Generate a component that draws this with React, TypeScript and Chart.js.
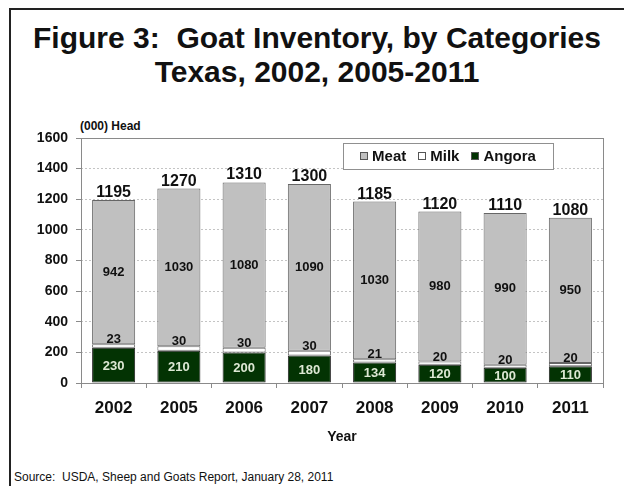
import { useEffect, useRef } from 'react';
import { Chart, registerables } from 'chart.js';

Chart.register(...registerables);

const FONT = '"Liberation Sans", Arial, Helvetica, sans-serif';

// values, (000) head
const years = ['2002', '2005', '2006', '2007', '2008', '2009', '2010', '2011'];
const meat = [942, 1030, 1080, 1090, 1030, 980, 990, 950];
const milk = [23, 30, 30, 30, 21, 20, 20, 20];
const angora = [230, 210, 200, 180, 134, 120, 100, 110];
const totals = [1195, 1270, 1310, 1300, 1185, 1120, 1110, 1080];
const seriesNames = ['Meat', 'Milk', 'Angora'];
const yMax = 1600;
const yStep = 200;

const MEAT_COLOR = '#c0c0c0';
const MILK_COLOR = '#ffffff';
const ANGORA_COLOR = '#033303';

const labelPlugin = {
   id: 'goatLabels',
   afterDatasetsDraw(chart: any) {
      const { ctx, chartArea } = chart;
      const angoraMeta = chart.getDatasetMeta(0);
      const milkMeta = chart.getDatasetMeta(1);
      const meatMeta = chart.getDatasetMeta(2);

      ctx.save();
      ctx.textAlign = 'center';
      years.forEach((_, i) => {
         const a = angoraMeta.data[i];
         const m = milkMeta.data[i];
         const t = meatMeta.data[i];

         ctx.font = `bold 13px ${FONT}`;
         ctx.fillStyle = '#dde8d4';
         ctx.textBaseline = 'middle';
         ctx.fillText(String(angora[i]), a.x, (a.y + a.base) / 2 + 1);

         ctx.fillStyle = '#111';
         ctx.textBaseline = 'alphabetic';
         ctx.fillText(String(milk[i]), m.x, m.y - 1);

         ctx.textBaseline = 'middle';
         ctx.fillText(String(meat[i]), t.x, (t.y + t.base) / 2);

         ctx.font = `bold 16px ${FONT}`;
         ctx.textBaseline = 'alphabetic';
         ctx.fillText(String(totals[i]), t.x, t.y - 3);
      });

      // plot frame
      ctx.strokeStyle = '#8a8a8a';
      ctx.lineWidth = 1;
      ctx.strokeRect(
         Math.round(chartArea.left) + 0.5,
         Math.round(chartArea.top) + 0.5,
         Math.round(chartArea.width),
         Math.round(chartArea.height)
      );

      // legend box inside the plot
      const boxLeft = chartArea.left + 262;
      const boxTop = chartArea.top + 5;
      const boxW = 210;
      const boxH = 26;
      ctx.fillStyle = '#fff';
      ctx.fillRect(boxLeft, boxTop, boxW, boxH);
      ctx.strokeStyle = '#909090';
      ctx.strokeRect(Math.round(boxLeft) + 0.5, Math.round(boxTop) + 0.5, boxW, boxH);

      const colors = [MEAT_COLOR, MILK_COLOR, ANGORA_COLOR];
      ctx.font = `bold 15px ${FONT}`;
      const sq = 8;
      const gap = 4;
      const itemGap = 12;
      const widths = seriesNames.map(n => ctx.measureText(n).width);
      const total = widths.reduce((s, w) => s + sq + gap + w, 0) + itemGap * (seriesNames.length - 1);
      let x = boxLeft + (boxW - total) / 2;
      const midY = boxTop + boxH / 2;
      seriesNames.forEach((name, i) => {
         ctx.fillStyle = colors[i];
         ctx.fillRect(Math.round(x), Math.round(midY - sq / 2), sq, sq);
         ctx.strokeStyle = '#555';
         ctx.strokeRect(Math.round(x) + 0.5, Math.round(midY - sq / 2) + 0.5, sq - 1, sq - 1);
         x += sq + gap;
         ctx.fillStyle = '#111';
         ctx.textAlign = 'left';
         ctx.textBaseline = 'middle';
         ctx.fillText(name, x, midY + 1);
         x += widths[i] + itemGap;
      });
      ctx.restore();
   }
};

export default function App() {
   const chartRef = useRef<HTMLCanvasElement>(null);
   const chartInstance = useRef<Chart | null>(null);

   useEffect(() => {
      if (!chartRef.current) return;
      const ctx = chartRef.current.getContext('2d');
      if (!ctx) return;

      if (chartInstance.current) {
         chartInstance.current.destroy();
      }

      const barStyle = {
         borderWidth: 1,
         borderSkipped: false as const,
         barPercentage: 0.66,
         categoryPercentage: 1
      };

      chartInstance.current = new Chart(ctx, {
         type: 'bar',
         data: {
            labels: years,
            datasets: [
               { label: 'Angora', data: angora, backgroundColor: ANGORA_COLOR, borderColor: '#222', ...barStyle },
               { label: 'Milk', data: milk, backgroundColor: MILK_COLOR, borderColor: '#666', ...barStyle },
               { label: 'Meat', data: meat, backgroundColor: MEAT_COLOR, borderColor: '#666', ...barStyle }
            ]
         },
         options: {
            animation: false,
            responsive: true,
            maintainAspectRatio: false,
            layout: { padding: { left: 0, right: 21, top: 28, bottom: 0 } },
            plugins: {
               legend: { display: false },
               tooltip: { enabled: false }
            },
            scales: {
               x: {
                  stacked: true,
                  afterFit: (scale: any) => { scale.height = 72; },
                  grid: { drawOnChartArea: false, tickLength: 5, color: '#8a8a8a' },
                  border: { display: false },
                  ticks: { color: '#111', padding: 10, font: { family: FONT, size: 17, weight: 'bold' } },
                  title: {
                     display: true,
                     text: 'Year',
                     color: '#111',
                     padding: { top: 0, bottom: 9 },
                     font: { family: FONT, size: 14, weight: 'bold' }
                  }
               },
               y: {
                  stacked: true,
                  min: 0,
                  max: yMax,
                  afterFit: (scale: any) => { scale.width = 81; },
                  grid: { color: '#c4c4c4', tickColor: '#8a8a8a', tickLength: 5 },
                  border: { display: false, dash: [2, 2] },
                  ticks: {
                     stepSize: yStep,
                     color: '#111',
                     padding: 8,
                     callback: (value: any) => String(value),
                     font: { family: FONT, size: 14, weight: 'bold' }
                  }
               }
            }
         },
         plugins: [labelPlugin]
      });

      return () => {
         if (chartInstance.current) {
            chartInstance.current.destroy();
            chartInstance.current = null;
         }
      };
   }, []);

   return (
      <div style={{ position: 'fixed', left: 0, top: 0, width: 624, height: 486, background: '#fff', overflow: 'hidden', fontFamily: FONT, color: '#111' }}>
         <div style={{ position: 'absolute', left: 10, top: 8, right: 0, height: 0, borderTop: '2px solid #222' }} />
         <div style={{ position: 'absolute', left: 9, top: 8, bottom: 0, width: 0, borderLeft: '2px solid #222' }} />
         <div style={{ position: 'absolute', left: 10, width: 614, top: 21, textAlign: 'center', fontWeight: 'bold', fontSize: 30, lineHeight: '34px', whiteSpace: 'pre' }}>
            {'Figure 3:  Goat Inventory, by Categories'}
            <br />
            {'Texas, 2002, 2005-2011'}
         </div>
         <div style={{ position: 'absolute', left: 80, top: 119, fontWeight: 'bold', fontSize: 12, lineHeight: '14px' }}>(000) Head</div>
         <div style={{ position: 'absolute', left: 0, top: 110, width: 624, height: 345 }}>
            <canvas ref={chartRef}></canvas>
         </div>
         <div style={{ position: 'absolute', left: 14, top: 470, fontSize: 12, lineHeight: '14px', whiteSpace: 'pre' }}>
            {'Source:  USDA, Sheep and Goats Report, January 28, 2011'}
         </div>
      </div>
   );
}
